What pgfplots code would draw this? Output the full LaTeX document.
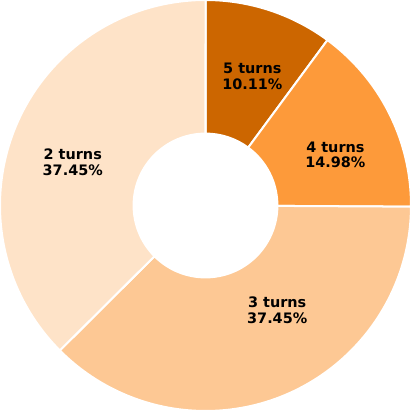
\documentclass[border=0pt]{standalone}
\usepackage{pgfplots}
\pgfplotsset{compat=1.18}
\usepackage{fontspec}
\setmainfont{DejaVu Sans}
\definecolor{cfive}{HTML}{CC6600}
\definecolor{cfour}{HTML}{FD9A3A}
\definecolor{cthree}{HTML}{FDC894}
\definecolor{ctwo}{HTML}{FEE3C8}
\newcommand{\cum}{0}
% #1 value (percent), #2 colour, #3 label, #4 percent text, #5 label x, #6 label y
\newcommand{\slice}[6]{%
  \pgfmathsetmacro\sa{90-\cum*3.6}%
  \pgfmathsetmacro\newcum{\cum+#1}%
  \global\let\cum\newcum
  \pgfmathsetmacro\sb{90-\cum*3.6}%
  \edef\tmp{\noexpand\fill[#2,draw=white,line width=2bp]
     (axis cs:{cos(\sa)},{sin(\sa)}) arc[start angle=\sa,end angle=\sb,radius=205bp]
     -- (axis cs:{0.35*cos(\sb)},{0.35*sin(\sb)})
     arc[start angle=\sb,end angle=\sa,radius=71.75bp] -- cycle;
     \noexpand\node[font=\noexpand\fontsize{14.4bp}{15.6bp}\noexpand\selectfont\noexpand\bfseries,align=center,text=black,inner sep=0pt]
     at (axis cs:#5,#6) {\unexpanded{#3\\#4}};}%
  \tmp}
\begin{document}
\begin{tikzpicture}
\begin{axis}[hide axis, scale only axis, width=410bp, height=410bp,
  xmin=-1, xmax=1, ymin=-1, ymax=1, clip=false]
\slice{10.11}{cfive}{5 turns}{10.11\%}{0.228}{0.628}
\slice{14.98}{cfour}{4 turns}{14.98\%}{0.632}{0.247}
\slice{37.45}{cthree}{3 turns}{37.45\%}{0.349}{-0.510}
\slice{37.46}{ctwo}{2 turns}{37.45\%}{-0.646}{0.212}
\end{axis}
\pgfresetboundingbox
\useasboundingbox (current axis.south west) rectangle (current axis.north east);
\end{tikzpicture}
\end{document}
